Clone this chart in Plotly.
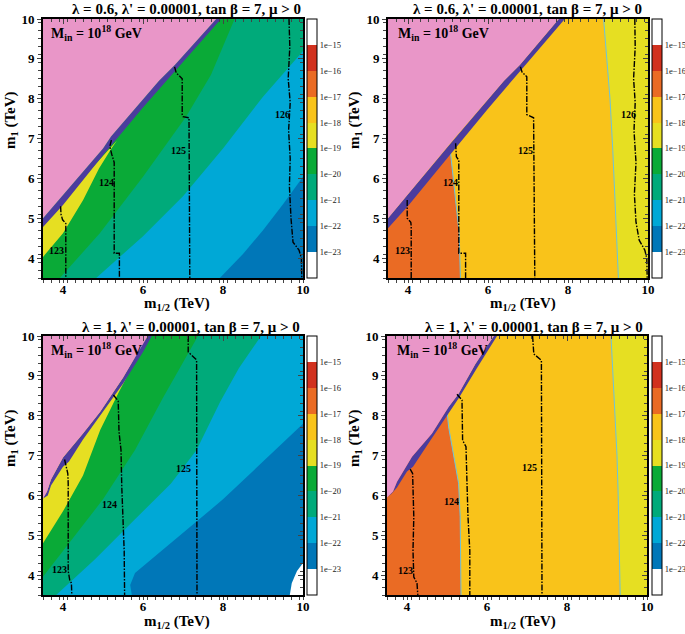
import plotly.graph_objects as go

# ---------------- colours of the bands (bottom -> top of colour bar) -------------
BAND_COLORS = ["#ffffff", "#0077b8", "#00a8d6", "#00aa7a", "#0aaa37",
               "#e6df22", "#f9c31a", "#ea6b24", "#d1311e", "#ffffff"]
CBAR_TICKVALS = [-23, -22, -21, -20, -19, -18, -17, -16, -15]
CBAR_TICKTEXT = ["1e\u221223", "1e\u221222", "1e\u221221", "1e\u221220", "1e\u221219",
                 "1e\u221218", "1e\u221217", "1e\u221216", "1e\u221215"]
PINK = "#e996c8"
STRIP = "#4b3c9e"
EDGE = "#6cc3dc"

TITLES = ["\u03bb = 0.6, \u03bb' = 0.00001, tan \u03b2 = 7, \u03bc > 0",
          "\u03bb = 0.6, \u03bb' = 0.00001, tan \u03b2 = 7, \u03bc > 0",
          "\u03bb = 1, \u03bb' = 0.00001, tan \u03b2 = 7, \u03bc > 0",
          "\u03bb = 1, \u03bb' = 0.00001, tan \u03b2 = 7, \u03bc > 0"]
XTICKS = [4, 6, 8, 10]
YTICKS = [4, 5, 6, 7, 8, 9, 10]
BOX_X = [3.5, 10, 10, 3.5]
BOX_Y = [3.5, 3.5, 10, 10]

# ================= panel 1 (lambda = 0.6, left) =================
P1_LBLUE_X = [7.92, 8.5, 9.0, 9.5, 10, 10, 3.5, 3.5]
P1_LBLUE_Y = [3.5, 4.1, 4.7, 5.35, 6.04, 10, 10, 3.5]
P1_TEAL_X = [4.83, 6.0, 7.0, 8.0, 9.0, 10, 10, 3.5, 3.5]
P1_TEAL_Y = [3.5, 4.55, 5.55, 6.75, 8.05, 9.2, 10, 10, 3.5]
P1_GREEN_X = [3.92, 4.92, 6.0, 7.08, 7.7, 8.29, 3.5, 3.5]
P1_GREEN_Y = [3.5, 4.62, 6.04, 7.55, 8.6, 10, 10, 3.5]
P1_YELLOW_X = [3.5, 4.0, 4.5, 4.9, 5.21, 5.35, 3.5]
P1_YELLOW_Y = [4.03, 4.62, 5.45, 6.25, 6.75, 6.95, 4.9]
P1_PINK_X = [3.5, 4.0, 5.0, 5.2, 6.4, 6.8, 7.83]
P1_PINK_Y = [5.0, 5.58, 6.75, 7.05, 8.45, 8.85, 10]
P1_STRIP_X = [3.5, 4.0, 5.0, 6.0, 7.0, 7.95]
P1_STRIP_Y = [4.78, 5.33, 6.58, 7.78, 8.92, 10]
P1_H123_X = [3.94, 3.95, 3.99, 4.07, 4.07]
P1_H123_Y = [5.3, 5.1, 4.96, 4.87, 3.5]
P1_H124_X = [5.21, 5.17, 5.22, 5.28, 5.28, 5.41, 5.41]
P1_H124_Y = [6.96, 6.8, 6.6, 6.4, 4.12, 4.12, 3.5]
P1_H125_X = [6.79, 6.83, 6.98, 6.98, 7.0, 7.15, 7.17]
P1_H125_Y = [8.8, 8.65, 8.5, 7.6, 7.55, 7.52, 3.5]
P1_H126_X = [9.65, 9.67, 9.63, 9.68, 9.64, 9.68, 9.66, 9.7, 9.75, 9.9, 9.96, 9.97]
P1_H126_Y = [10, 9.3, 8.5, 7.9, 7.2, 6.5, 5.8, 5.0, 4.4, 4.2, 4.0, 3.5]
P1_LABEL_X = [3.84, 5.08, 6.89, 9.48]
P1_LABEL_Y = [4.19, 5.89, 6.71, 7.6]
P1_LABEL_T = ["123", "124", "125", "126"]

# ================= panel 2 (lambda = 0.6, right) =================
P2_GOLD_X = [8.89, 8.97, 9.05, 9.12, 9.17, 9.22, 9.26, 3.5, 3.5]
P2_GOLD_Y = [10, 9, 8, 6.7, 5.5, 4.5, 3.5, 3.5, 10]
P2_ORANGE_X = [3.5, 5.31, 5.28, 5.19, 5.1, 5.06, 5.15, 3.5]
P2_ORANGE_Y = [3.5, 3.5, 4.62, 5.45, 6.29, 6.67, 6.85, 4.9]
P2_PINK_X = [3.5, 4.0, 5.0, 5.2, 6.4, 6.8, 7.77]
P2_PINK_Y = [5.0, 5.6, 6.8, 7.05, 8.45, 8.85, 10]
P2_STRIP_X = [3.5, 4.0, 5.0, 6.0, 7.0, 7.92]
P2_STRIP_Y = [4.75, 5.31, 6.53, 7.75, 8.92, 10]
P2_H123_X = [3.98, 3.98, 4.07, 4.08, 4.08]
P2_H123_Y = [5.46, 5.0, 4.9, 4.8, 3.5]
P2_H124_X = [5.19, 5.21, 5.27, 5.27, 5.44, 5.44]
P2_H124_Y = [6.88, 6.54, 6.46, 4.12, 4.12, 3.5]
P2_H125_X = [6.81, 6.85, 6.97, 6.97, 7.14, 7.17]
P2_H125_Y = [8.8, 8.67, 8.55, 7.6, 7.52, 3.5]
P2_H126_X = [9.67, 9.68, 9.64, 9.68, 9.65, 9.7, 9.66, 9.7, 9.78, 9.92, 9.97, 9.98]
P2_H126_Y = [10, 9.3, 8.5, 7.9, 7.2, 6.4, 5.6, 4.9, 4.45, 4.2, 4.0, 3.5]
P2_LABEL_X = [3.86, 5.05, 6.94, 9.5]
P2_LABEL_Y = [4.2, 5.9, 6.71, 7.6]
P2_LABEL_T = ["123", "124", "125", "126"]

# ================= panel 3 (lambda = 1, left) =================
P3_LBLUE_X = [5.72, 5.68, 5.8, 6.1, 7.0, 8.0, 9.0, 10, 10, 3.5, 3.5]
P3_LBLUE_Y = [3.5, 3.75, 4.05, 4.3, 5.05, 5.9, 6.85, 7.8, 10, 10, 3.5]
P3_WHITE_X = [9.67, 9.72, 9.85, 10, 10]
P3_WHITE_Y = [3.5, 3.8, 4.1, 4.3, 3.5]
P3_TEAL_X = [3.83, 4.8, 5.8, 6.7, 7.34, 7.93, 8.4, 8.95, 3.5, 3.5]
P3_TEAL_Y = [3.5, 4.4, 5.4, 6.3, 7.14, 8.35, 9.2, 10, 10, 3.5]
P3_GREEN_X = [3.5, 4.0, 4.5, 5.0, 5.8, 6.5, 7.375, 3.5]
P3_GREEN_Y = [3.96, 4.6, 5.25, 5.9, 7.14, 8.45, 10, 10]
P3_YELLOW_X = [3.5, 4.0, 4.5, 4.93, 5.4, 5.82, 5.9, 3.5]
P3_YELLOW_Y = [4.8, 5.6, 6.5, 7.64, 8.6, 9.4, 9.6, 6.3]
P3_PINK_X = [3.5, 3.6, 3.7, 4.0, 4.5, 4.93, 5.5, 6.0, 6.12]
P3_PINK_Y = [5.92, 6.1, 6.4, 6.95, 7.55, 8.1, 8.95, 9.82, 10]
P3_STRIP_X = [3.62, 3.7, 4.0, 4.15, 4.5, 4.93, 5.5, 6.0, 6.22]
P3_STRIP_Y = [6.0, 6.25, 6.72, 6.85, 7.4, 8.0, 8.8, 9.6, 10]
P3_H123_X = [4.04, 4.12, 4.13, 4.13, 4.17, 4.21, 4.22]
P3_H123_Y = [6.9, 6.55, 6.3, 4.1, 3.87, 3.8, 3.5]
P3_H124_X = [5.26, 5.38, 5.4, 5.45, 5.47, 5.5, 5.53, 5.54]
P3_H124_Y = [8.52, 8.37, 7.6, 7.14, 6.2, 5.5, 4.6, 3.5]
P3_H125_X = [7.13, 7.13, 7.34, 7.35]
P3_H125_Y = [10, 9.6, 9.4, 3.5]
P3_LABEL_X = [3.92, 5.17, 7.0]
P3_LABEL_Y = [4.13, 5.78, 6.68]
P3_LABEL_T = ["123", "124", "125"]

# ================= panel 4 (lambda = 1, right) =================
P4_GOLD_X = [9.1, 9.15, 9.2, 9.25, 9.28, 9.3, 9.33, 3.5, 3.5]
P4_GOLD_Y = [10, 9, 8, 7, 6, 5, 3.5, 3.5, 10]
P4_ORANGE_X = [3.5, 5.35, 5.33, 5.29, 5.17, 5.04, 5.0, 5.1, 4.5, 4.0, 3.6, 3.5]
P4_ORANGE_Y = [3.5, 3.5, 5.46, 6.3, 6.97, 7.72, 8.13, 8.3, 7.5, 6.9, 6.2, 6.1]
P4_PINK_X = [3.5, 3.65, 3.75, 4.125, 4.625, 5.04, 5.29, 5.71, 6.04, 6.17]
P4_PINK_Y = [5.95, 6.1, 6.34, 6.97, 7.55, 8.22, 8.55, 9.3, 9.8, 10]
P4_STRIP_X = [3.62, 3.75, 4.0, 4.15, 4.6, 5.04, 5.3, 5.75, 6.1, 6.25]
P4_STRIP_Y = [6.05, 6.2, 6.6, 6.72, 7.4, 8.05, 8.45, 9.2, 9.75, 10]
P4_H123_X = [4.08, 4.14, 4.17, 4.15, 4.17, 4.25, 4.27]
P4_H123_Y = [6.66, 6.55, 5.46, 4.62, 3.95, 3.8, 3.5]
P4_H124_X = [5.25, 5.375, 5.39, 5.475, 5.5, 5.525, 5.57, 5.57]
P4_H124_Y = [8.54, 8.39, 7.38, 7.22, 6.3, 5.46, 4.62, 3.5]
P4_H125_X = [7.14, 7.17, 7.36, 7.375]
P4_H125_Y = [10, 9.55, 9.39, 3.5]
P4_LABEL_X = [3.96, 5.125, 7.06]
P4_LABEL_Y = [4.12, 5.84, 6.7]
P4_LABEL_T = ["123", "124", "125"]

# ---------------- layout geometry (paper fractions) ----------------
W, H = 685, 634
XDOM = [[43 / W, 303 / W], [388 / W, 648 / W], [43 / W, 303 / W], [387 / W, 647 / W]]
YDOM = [[1 - 278 / H, 1 - 19 / H], [1 - 278 / H, 1 - 19 / H],
        [1 - 595 / H, 1 - 336 / H], [1 - 595 / H, 1 - 336 / H]]
CBAR_X = [307 / W, 652 / W, 307 / W, 652 / W]

SERIF = "Liberation Serif"

fig = go.Figure()


def poly(i, xs, ys, color):
    fig.add_trace(go.Scatter(x=xs, y=ys, fill="toself", fillcolor=color, mode="lines",
                             line=dict(width=0, color=color), hoverinfo="skip",
                             showlegend=False, xaxis=f"x{i}", yaxis=f"y{i}"))


def line(i, xs, ys, color="black", width=1.4, dash="6px,1.5px,1.5px,1.5px"):
    fig.add_trace(go.Scatter(x=xs, y=ys, mode="lines",
                             line=dict(width=width, color=color, dash=dash),
                             hoverinfo="skip", showlegend=False,
                             xaxis=f"x{i}", yaxis=f"y{i}"))


def pink_and_strip(i, px, py, sx, sy):
    # strip: between lower strip edge and pink boundary
    poly(i, sx + px[::-1], sy + py[::-1], STRIP)
    poly(i, px + [3.5], py + [10], PINK)


def labels(i, lx, ly, lt):
    for x, y, t in zip(lx, ly, lt):
        fig.add_annotation(x=x, y=y, text=t, showarrow=False, xref=f"x{i}", yref=f"y{i}",
                           font=dict(family=SERIF, size=10, color="black", weight="bold"))


# ---- panel 1
poly(1, BOX_X, BOX_Y, BAND_COLORS[1])
poly(1, P1_LBLUE_X, P1_LBLUE_Y, BAND_COLORS[2])
poly(1, P1_TEAL_X, P1_TEAL_Y, BAND_COLORS[3])
poly(1, P1_GREEN_X, P1_GREEN_Y, BAND_COLORS[4])
poly(1, P1_YELLOW_X, P1_YELLOW_Y, BAND_COLORS[5])
pink_and_strip(1, P1_PINK_X, P1_PINK_Y, P1_STRIP_X, P1_STRIP_Y)
for hx, hy in [(P1_H123_X, P1_H123_Y), (P1_H124_X, P1_H124_Y),
               (P1_H125_X, P1_H125_Y), (P1_H126_X, P1_H126_Y)]:
    line(1, hx, hy)
labels(1, P1_LABEL_X, P1_LABEL_Y, P1_LABEL_T)

# ---- panel 2
poly(2, BOX_X, BOX_Y, BAND_COLORS[5])
poly(2, P2_GOLD_X, P2_GOLD_Y, BAND_COLORS[6])
poly(2, P2_ORANGE_X, P2_ORANGE_Y, BAND_COLORS[7])
line(2, P2_GOLD_X[:7], P2_GOLD_Y[:7], EDGE, 1, "solid")
line(2, P2_ORANGE_X[1:6], P2_ORANGE_Y[1:6], EDGE, 1, "solid")
pink_and_strip(2, P2_PINK_X, P2_PINK_Y, P2_STRIP_X, P2_STRIP_Y)
for hx, hy in [(P2_H123_X, P2_H123_Y), (P2_H124_X, P2_H124_Y),
               (P2_H125_X, P2_H125_Y), (P2_H126_X, P2_H126_Y)]:
    line(2, hx, hy)
labels(2, P2_LABEL_X, P2_LABEL_Y, P2_LABEL_T)

# ---- panel 3
poly(3, BOX_X, BOX_Y, BAND_COLORS[1])
poly(3, P3_LBLUE_X, P3_LBLUE_Y, BAND_COLORS[2])
poly(3, P3_WHITE_X, P3_WHITE_Y, BAND_COLORS[0])
poly(3, P3_TEAL_X, P3_TEAL_Y, BAND_COLORS[3])
poly(3, P3_GREEN_X, P3_GREEN_Y, BAND_COLORS[4])
poly(3, P3_YELLOW_X, P3_YELLOW_Y, BAND_COLORS[5])
pink_and_strip(3, P3_PINK_X, P3_PINK_Y, P3_STRIP_X, P3_STRIP_Y)
for hx, hy in [(P3_H123_X, P3_H123_Y), (P3_H124_X, P3_H124_Y), (P3_H125_X, P3_H125_Y)]:
    line(3, hx, hy)
labels(3, P3_LABEL_X, P3_LABEL_Y, P3_LABEL_T)

# ---- panel 4
poly(4, BOX_X, BOX_Y, BAND_COLORS[5])
poly(4, P4_GOLD_X, P4_GOLD_Y, BAND_COLORS[6])
poly(4, P4_ORANGE_X, P4_ORANGE_Y, BAND_COLORS[7])
line(4, P4_GOLD_X[:7], P4_GOLD_Y[:7], EDGE, 1, "solid")
line(4, P4_ORANGE_X[1:8], P4_ORANGE_Y[1:8], EDGE, 1, "solid")
pink_and_strip(4, P4_PINK_X, P4_PINK_Y, P4_STRIP_X, P4_STRIP_Y)
for hx, hy in [(P4_H123_X, P4_H123_Y), (P4_H124_X, P4_H124_Y), (P4_H125_X, P4_H125_Y)]:
    line(4, hx, hy)
labels(4, P4_LABEL_X, P4_LABEL_Y, P4_LABEL_T)

# ---- colour bars (one per panel)
colorscale = []
for k, c in enumerate(BAND_COLORS):
    colorscale += [[k / 10, c], [(k + 1) / 10, c]]

layout = dict(width=W, height=H, margin=dict(l=0, r=0, t=0, b=0, autoexpand=False),
              paper_bgcolor="white", plot_bgcolor="white", showlegend=False)

for i in range(1, 5):
    ca = "coloraxis" if i == 1 else f"coloraxis{i}"
    fig.add_trace(go.Scatter(x=[None], y=[None], mode="markers",
                             marker=dict(color=[-20], coloraxis=ca),
                             showlegend=False, hoverinfo="skip",
                             xaxis=f"x{i}", yaxis=f"y{i}"))
    ymid = (YDOM[i - 1][0] + YDOM[i - 1][1]) / 2
    layout[ca] = dict(cmin=-24, cmax=-14, colorscale=colorscale,
                      colorbar=dict(x=CBAR_X[i - 1], xanchor="left", y=ymid, yanchor="middle",
                                    len=YDOM[i - 1][1] - YDOM[i - 1][0], lenmode="fraction",
                                    thickness=10, xpad=0, ypad=0,
                                    outlinecolor="black", outlinewidth=1,
                                    tickvals=CBAR_TICKVALS, ticktext=CBAR_TICKTEXT,
                                    ticks="", ticklen=0,
                                    tickfont=dict(family=SERIF, size=8.5, color="#222")))

    axfont = dict(family=SERIF, size=13, color="black", weight="bold")
    xs = "xaxis" if i == 1 else f"xaxis{i}"
    ys = "yaxis" if i == 1 else f"yaxis{i}"
    layout[xs] = dict(domain=XDOM[i - 1], range=[3.5, 10], anchor=f"y{i}",
                      tickvals=XTICKS, ticks="outside", ticklen=3, tickwidth=1.2,
                      ticklabelstandoff=-5,
                      showline=True, linewidth=2, linecolor="black", mirror=True,
                      showgrid=False, zeroline=False, tickfont=axfont,
                      minor=dict(dtick=0.2, ticks="outside", ticklen=3, tickwidth=1, tick0=3.5))
    layout[ys] = dict(domain=YDOM[i - 1], range=[3.5, 10], anchor=f"x{i}",
                      tickvals=YTICKS, ticks="outside", ticklen=4, tickwidth=1.2,
                      showline=True, linewidth=2, linecolor="black", mirror=True,
                      showgrid=False, zeroline=False, tickfont=axfont,
                      minor=dict(dtick=0.2, ticks="outside", ticklen=3, tickwidth=1, tick0=3.5))
    # mirrored inner ticks on top/right
    layout[f"xaxis{i + 4}"] = dict(overlaying=f"x{i}", side="top", range=[3.5, 10],
                                   anchor=f"y{i}", tickvals=XTICKS, ticks="inside", ticklen=5,
                                   showticklabels=False, showgrid=False, zeroline=False,
                                   minor=dict(dtick=0.2, ticks="inside", ticklen=3, tick0=3.5))
    layout[f"yaxis{i + 4}"] = dict(overlaying=f"y{i}", side="right", range=[3.5, 10],
                                   anchor=f"x{i}", tickvals=YTICKS, ticks="inside", ticklen=5,
                                   showticklabels=False, showgrid=False, zeroline=False,
                                   minor=dict(dtick=0.2, ticks="inside", ticklen=3, tick0=3.5))
    fig.add_trace(go.Scatter(x=[None], y=[None], xaxis=f"x{i + 4}", yaxis=f"y{i + 4}",
                             showlegend=False, hoverinfo="skip"))

fig.update_layout(**layout)

# ---- titles and text
TITLE_X = [303 / W, 644 / W, 302 / W, 645 / W]
TITLE_Y = [1 - 9 / H, 1 - 9 / H, 1 - 327 / H, 1 - 327 / H]
XT_X = [177 / W, 523 / W, 177 / W, 523 / W]
XT_Y = [1 - 315 / H, 1 - 315 / H, 1 - 633 / H, 1 - 633 / H]
YT_X = [11 / W, 355 / W, 11 / W, 355 / W]
YT_Y = [1 - 120 / H, 1 - 120 / H, 1 - 438 / H, 1 - 438 / H]
MIN_X = [3.65, 3.69, 3.65, 3.71]
for i in range(4):
    fig.add_annotation(x=TITLE_X[i], y=TITLE_Y[i], xref="paper", yref="paper",
                       xanchor="right", yanchor="middle", showarrow=False, text=TITLES[i],
                       font=dict(family=SERIF, size=15, color="black", weight="bold"))
    fig.add_annotation(x=XT_X[i], y=XT_Y[i], xref="paper", yref="paper",
                       xanchor="center", yanchor="bottom", showarrow=False,
                       text="m<sub>1/2</sub> (TeV)",
                       font=dict(family=SERIF, size=15, color="black", weight="bold"))
    fig.add_annotation(x=YT_X[i], y=YT_Y[i], xref="paper", yref="paper",
                       xanchor="center", yanchor="middle", showarrow=False, textangle=-90,
                       text="m<sub>1</sub> (TeV)",
                       font=dict(family=SERIF, size=15, color="black", weight="bold"))
    fig.add_annotation(x=MIN_X[i], y=9.65, xref=f"x{i + 1}", yref=f"y{i + 1}",
                       xanchor="left", yanchor="middle", showarrow=False,
                       text="M<sub>in</sub> = 10<sup>18</sup> GeV",
                       font=dict(family=SERIF, size=14, color="black", weight="bold"))

fig.write_html("out.html", config={"displayModeBar": False},
               post_script="document.body.style.margin='0px';"
                           "document.body.style.overflow='hidden';")
